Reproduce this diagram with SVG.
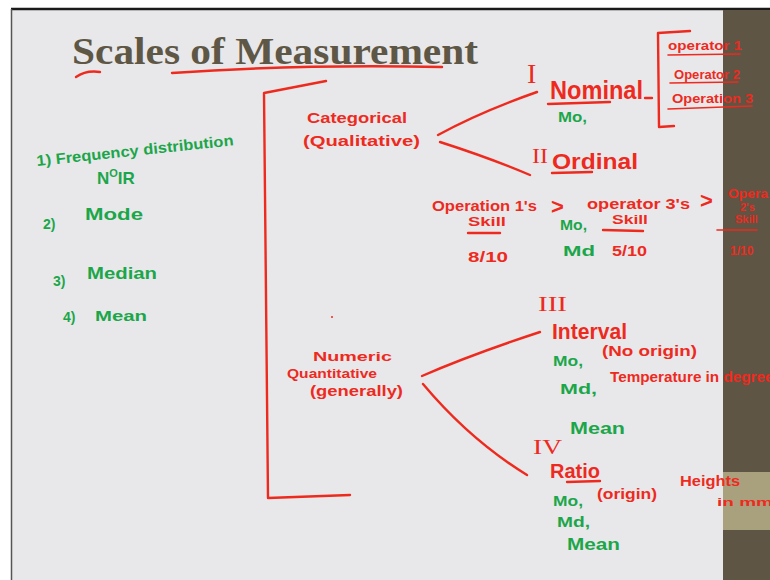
<svg xmlns="http://www.w3.org/2000/svg" width="770" height="580" viewBox="0 0 770 580">
<style>
.r{fill:#ee2a1e;font-family:"Liberation Sans",Arial,sans-serif;font-weight:bold}
.g{fill:#1ca64a;font-family:"Liberation Sans",Arial,sans-serif;font-weight:bold}
.rs{fill:#ee2a1e;font-family:"Liberation Serif","Times New Roman",serif}
.ln{stroke:#ee2a1e;fill:none;stroke-width:2.4;stroke-linecap:round;stroke-linejoin:round}
.thin{stroke:#ee2a1e;fill:none;stroke-width:1.6;stroke-linecap:round}
</style>
<rect x="0" y="0" width="770" height="580" fill="#ffffff"/>
<rect x="11" y="9" width="759" height="571" fill="#e8e8ea"/>
<line x1="11" y1="9" x2="770" y2="9" stroke="#1a1a1a" stroke-width="2.5"/>
<line x1="11.5" y1="9" x2="11.5" y2="580" stroke="#555" stroke-width="1.5"/>
<rect x="723" y="10" width="47" height="570" fill="#5e5545"/>
<rect x="723" y="472" width="47" height="58" fill="#a9a07e"/>

<g id="title">
<text x="72" y="64" font-family="Liberation Serif,'Times New Roman',serif" font-weight="bold" font-size="37" fill="#5f5746" textLength="406" lengthAdjust="spacingAndGlyphs">Scales of Measurement</text>
<path class="ln" d="M76,77 Q86,70 100,72"/>
<path class="ln" d="M172,73 Q300,64 442,67"/>
</g>

<g id="connectors">
<path class="ln" d="M326,81 Q290,88 264,93 L268,498 L350,495"/>
<path class="ln" d="M438,135 Q480,112 537,92"/>
<path class="ln" d="M440,142 Q490,158 530,175"/>
<path class="ln" d="M422,376 Q470,355 540,332"/>
<path class="ln" d="M423,384 Q470,440 527,475"/>
<path class="ln" d="M690,31 L658,33 L659,127 L674,126"/>
<line class="ln" x1="645" y1="98" x2="652" y2="98"/>
</g>

<g id="left-list">
<text class="g" font-size="15" transform="rotate(-6 37 166)" x="37" y="166" textLength="198" lengthAdjust="spacingAndGlyphs">1) Frequency distribution</text>
<text class="g" font-size="17" x="97" y="184">N<tspan font-size="11" dy="-7">O</tspan><tspan dy="7">IR</tspan></text>
<text class="g" font-size="14" x="43" y="229">2)</text>
<text class="g" font-size="17" x="85" y="220" textLength="58" lengthAdjust="spacingAndGlyphs">Mode</text>
<text class="g" font-size="14" x="53" y="286">3)</text>
<text class="g" font-size="17" x="87" y="279" textLength="70" lengthAdjust="spacingAndGlyphs">Median</text>
<text class="g" font-size="14" x="63" y="322">4)</text>
<text class="g" font-size="15" x="95" y="321" textLength="52" lengthAdjust="spacingAndGlyphs">Mean</text>
</g>

<g id="categorical">
<text class="r" font-size="15" x="307" y="123" textLength="100" lengthAdjust="spacingAndGlyphs">Categorical</text>
<text class="r" font-size="15" x="303" y="146" textLength="117" lengthAdjust="spacingAndGlyphs">(Qualitative)</text>
</g>

<g id="nominal">
<text class="rs" font-size="28" x="527" y="83">I</text>
<text class="r" font-size="26" x="550" y="99" textLength="93" lengthAdjust="spacingAndGlyphs">Nominal</text>
<path class="ln" d="M548,104 L610,102"/>
<text class="g" font-size="14" x="558" y="122" textLength="29" lengthAdjust="spacingAndGlyphs">Mo,</text>
</g>

<g id="operators">
<text class="r" font-size="13" x="668" y="50" textLength="74" lengthAdjust="spacingAndGlyphs">operator 1</text>
<path class="thin" d="M668,55 L740,54"/>
<text class="r" font-size="12" x="674" y="79" textLength="66" lengthAdjust="spacingAndGlyphs">Operator 2</text>
<path class="thin" d="M670,83 L738,82"/>
<text class="r" font-size="13" x="672" y="103" textLength="81" lengthAdjust="spacingAndGlyphs">Operation 3</text>
<path class="thin" d="M668,109 L752,106"/>
</g>

<g id="ordinal">
<text class="rs" font-size="20" x="532" y="163" textLength="16" lengthAdjust="spacingAndGlyphs">II</text>
<text class="r" font-size="22" x="552" y="169" textLength="86" lengthAdjust="spacingAndGlyphs">Ordinal</text>
<path class="ln" d="M552,173 L592,172"/>
</g>

<g id="ordering">
<text class="r" font-size="15" x="432" y="211" textLength="105" lengthAdjust="spacingAndGlyphs">Operation 1's</text>
<text class="r" font-size="22" x="551" y="214">&gt;</text>
<text class="r" font-size="15" x="587" y="209" textLength="103" lengthAdjust="spacingAndGlyphs">operator 3's</text>
<text class="r" font-size="22" x="700" y="208">&gt;</text>
<text class="r" font-size="12" x="728" y="198" textLength="40" lengthAdjust="spacingAndGlyphs">Opera</text>
<text class="r" font-size="11" x="740" y="211">2's</text>
<text class="r" font-size="11" x="735" y="223">Skill</text>
<path class="thin" d="M717,230 L757,230"/>
<text class="r" font-size="12" x="730" y="255">1/10</text>
<text class="r" font-size="13" x="468" y="226" textLength="38" lengthAdjust="spacingAndGlyphs">Skill</text>
<path class="ln" d="M468,233 L500,233"/>
<text class="r" font-size="15" x="468" y="262" textLength="40" lengthAdjust="spacingAndGlyphs">8/10</text>
<text class="g" font-size="14" x="560" y="230" textLength="27" lengthAdjust="spacingAndGlyphs">Mo,</text>
<text class="g" font-size="14" x="563" y="256" textLength="32" lengthAdjust="spacingAndGlyphs">Md</text>
<text class="r" font-size="13" x="612" y="224" textLength="36" lengthAdjust="spacingAndGlyphs">Skill</text>
<path class="ln" d="M603,230 L643,231"/>
<text class="r" font-size="15" x="612" y="256" textLength="35" lengthAdjust="spacingAndGlyphs">5/10</text>
</g>

<g id="numeric">
<circle cx="332" cy="317" r="1" fill="#ee2a1e"/>
<text class="r" font-size="13" x="313" y="361" textLength="79" lengthAdjust="spacingAndGlyphs">Numeric</text>
<text class="r" font-size="13" x="287" y="378" textLength="90" lengthAdjust="spacingAndGlyphs">Quantitative</text>
<text class="r" font-size="15" x="310" y="396" textLength="93" lengthAdjust="spacingAndGlyphs">(generally)</text>
</g>

<g id="interval">
<text class="rs" font-size="22" x="538" y="311" textLength="29" lengthAdjust="spacingAndGlyphs">III</text>
<text class="r" font-size="22" x="552" y="339" textLength="75" lengthAdjust="spacingAndGlyphs">Interval</text>
<text class="r" font-size="15" x="602" y="356" textLength="95" lengthAdjust="spacingAndGlyphs">(No origin)</text>
<text class="g" font-size="14" x="553" y="366" textLength="30" lengthAdjust="spacingAndGlyphs">Mo,</text>
<text class="g" font-size="14" x="560" y="394" textLength="37" lengthAdjust="spacingAndGlyphs">Md,</text>
<text class="r" font-size="14" x="610" y="382" textLength="172" lengthAdjust="spacingAndGlyphs">Temperature in degrees</text>
<text class="g" font-size="16" x="570" y="434" textLength="55" lengthAdjust="spacingAndGlyphs">Mean</text>
</g>

<g id="ratio">
<text class="rs" font-size="22" x="533" y="454" textLength="29" lengthAdjust="spacingAndGlyphs">IV</text>
<text class="r" font-size="21" x="550" y="478" textLength="50" lengthAdjust="spacingAndGlyphs">Ratio</text>
<path class="ln" d="M567,482 L600,481"/>
<text class="r" font-size="15" x="597" y="499" textLength="60" lengthAdjust="spacingAndGlyphs">(origin)</text>
<text class="r" font-size="15" x="680" y="486" textLength="60" lengthAdjust="spacingAndGlyphs">Heights</text>
<text class="r" font-size="11" x="717" y="506" textLength="56" lengthAdjust="spacingAndGlyphs">in mm</text>
<text class="g" font-size="14" x="553" y="506" textLength="30" lengthAdjust="spacingAndGlyphs">Mo,</text>
<text class="g" font-size="14" x="557" y="527" textLength="33" lengthAdjust="spacingAndGlyphs">Md,</text>
<text class="g" font-size="16" x="567" y="550" textLength="53" lengthAdjust="spacingAndGlyphs">Mean</text>
</g>
</svg>
